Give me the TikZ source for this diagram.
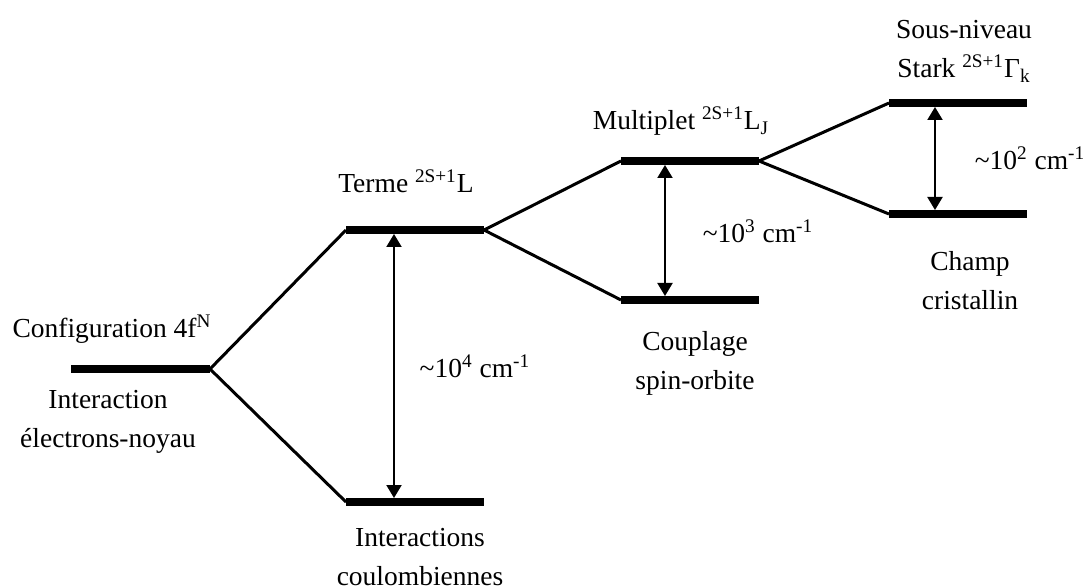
\documentclass[tikz,border=0pt]{standalone}
\usepackage{fontspec}
\setmainfont{Liberation Serif}
\usetikzlibrary{arrows.meta}

\begin{document}
\begin{tikzpicture}[x=0.5pt, y=-0.5pt,
    level/.style={line width=4pt},
    split/.style={line width=1.5pt, line join=round},
    gap/.style={line width=1pt, {Triangle[length=6.5pt,width=7.5pt]}-{Triangle[length=6.5pt,width=7.5pt]},
        shorten <=2pt, shorten >=2pt},
    lbl/.style={align=center, anchor=base, font=\fontsize{13.75}{19.5}\selectfont}]
    \useasboundingbox (0,0) rectangle (1088,588);

    % energy levels
    \coordinate (cfgL) at (71,369);  \coordinate (cfgR) at (210,369);
    \coordinate (tuL) at (346,230);  \coordinate (tuR) at (484,230);
    \coordinate (tlL) at (346,502);  \coordinate (tlR) at (484,502);
    \coordinate (muL) at (621,161);  \coordinate (muR) at (759,161);
    \coordinate (mlL) at (621,300);  \coordinate (mlR) at (759,300);
    \coordinate (suL) at (889,103);  \coordinate (suR) at (1027,103);
    \coordinate (slL) at (889,214);  \coordinate (slR) at (1027,214);

    \draw[level] (cfgL) -- (cfgR);
    \draw[level] (tuL) -- (tuR);
    \draw[level] (tlL) -- (tlR);
    \draw[level] (muL) -- (muR);
    \draw[level] (mlL) -- (mlR);
    \draw[level] (suL) -- (suR);
    \draw[level] (slL) -- (slR);

    % splittings
    \draw[split] (tuL) -- (cfgR) -- (tlL);
    \draw[split] (muL) -- (tuR) -- (mlL);
    \draw[split] (suL) -- (muR) -- (slL);

    % gaps
    \coordinate (tA) at (394,230);  \coordinate (tB) at (394,502);
    \coordinate (mA) at (665,161);  \coordinate (mB) at (665,300);
    \coordinate (sA) at (935,103);  \coordinate (sB) at (935,214);
    \draw[gap] (tA) -- (tB);
    \draw[gap] (mA) -- (mB);
    \draw[gap] (sA) -- (sB);

    % labels (base = last line)
    \node[lbl] (cfgtxt) at (112,338) {Configuration 4f\textsuperscript{N}};
    \node[lbl] (cfgsub) at (108,447) {Interaction\\électrons-noyau};
    \node[lbl] (termtxt) at (406,193) {Terme \textsuperscript{2S+1}L};
    \node[lbl] (dEfour) at (475,378) {\textasciitilde10\textsuperscript{4} cm\textsuperscript{-1}};
    \node[lbl] (termsub) at (420,585) {Interactions\\coulombiennes};
    \node[lbl] (multtxt) at (681,130) {Multiplet \textsuperscript{2S+1}L\textsubscript{J}};
    \node[lbl] (dEthree) at (758,243) {\textasciitilde10\textsuperscript{3} cm\textsuperscript{-1}};
    \node[lbl] (multsub) at (695,390) {Couplage\\spin-orbite};
    \node[lbl] (starktxt) at (964,78) {Sous-niveau\\Stark \textsuperscript{2S+1}Γ\textsubscript{k}};
    \node[lbl] (dEtwo) at (1030,170) {\textasciitilde10\textsuperscript{2} cm\textsuperscript{-1}};
    \node[lbl] (starksub) at (970,310) {Champ\\cristallin};
\end{tikzpicture}
\end{document}
